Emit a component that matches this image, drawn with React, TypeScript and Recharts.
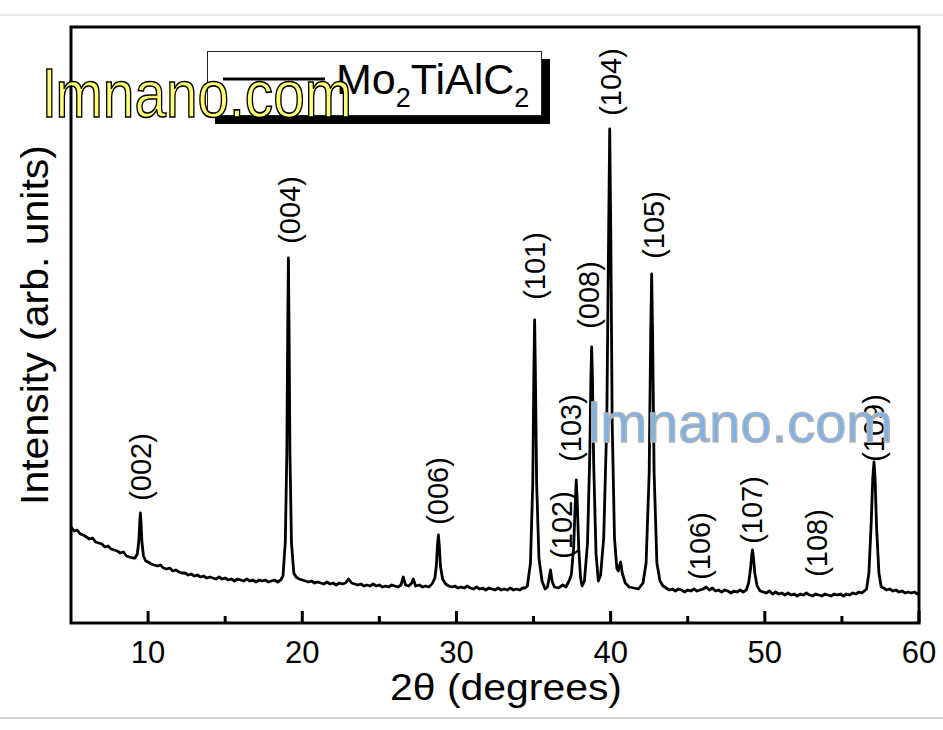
import React from 'react';
import { ComposedChart, Line, Scatter, XAxis, YAxis, ReferenceArea } from 'recharts';

// XRD scan: [2theta (deg), intensity (arb. units)]
const scan: [number, number][] = [
  [5.0, 96], [5.2, 92], [5.4, 93], [5.6, 89], [5.8, 88], [6.0, 86], [6.2, 84], [6.4, 85], [6.6, 81], [6.8, 80],
  [7.0, 79], [7.2, 76], [7.4, 77], [7.6, 74], [7.8, 73], [8.0, 72], [8.2, 70], [8.4, 71], [8.6, 67], [8.8, 66],
  [9.0, 65], [9.15, 65], [9.3, 69], [9.4, 82], [9.46, 101], [9.5, 110], [9.54, 101], [9.6, 81], [9.7, 67], [9.85, 62],
  [10.0, 61], [10.2, 59], [10.4, 58], [10.6, 57], [10.8, 58], [11.0, 55], [11.2, 54], [11.4, 55], [11.6, 52], [11.8, 53],
  [12.0, 51], [12.2, 50], [12.4, 50], [12.6, 48], [12.8, 49], [13.0, 47], [13.2, 48], [13.4, 46], [13.6, 47], [13.8, 45],
  [14.0, 46], [14.2, 45], [14.4, 44], [14.6, 46], [14.8, 44], [15.0, 45], [15.2, 43], [15.4, 44], [15.6, 42], [15.8, 44],
  [16.0, 43], [16.2, 42], [16.4, 44], [16.6, 42], [16.8, 43], [17.0, 41], [17.2, 43], [17.4, 42], [17.6, 43], [17.8, 41],
  [18.0, 42], [18.2, 43], [18.4, 41], [18.6, 43], [18.75, 47], [18.9, 81], [19.0, 172], [19.06, 300], [19.1, 365], [19.14, 300],
  [19.2, 170], [19.3, 80], [19.45, 50], [19.6, 46], [19.8, 44], [20.0, 43], [20.2, 42], [20.4, 41], [20.6, 42], [20.8, 40],
  [21.0, 41], [21.2, 40], [21.4, 39], [21.6, 41], [21.8, 39], [22.0, 40], [22.2, 38], [22.4, 40], [22.6, 39], [22.8, 40],
  [23.0, 44], [23.2, 40], [23.4, 39], [23.6, 38], [23.8, 39], [24.0, 37], [24.2, 38], [24.4, 37], [24.6, 39], [24.8, 37],
  [25.0, 38], [25.2, 36], [25.4, 37], [25.6, 36], [25.8, 38], [26.0, 37], [26.2, 36], [26.4, 38], [26.55, 46], [26.7, 38],
  [26.9, 37], [27.1, 40], [27.2, 44], [27.35, 37], [27.6, 38], [27.8, 36], [28.0, 37], [28.2, 36], [28.35, 38], [28.45, 40],
  [28.6, 45], [28.7, 58], [28.77, 78], [28.83, 88], [28.89, 77], [28.96, 57], [29.1, 44], [29.3, 39], [29.5, 37], [29.7, 36],
  [29.9, 37], [30.1, 35], [30.3, 36], [30.5, 35], [30.7, 37], [30.9, 35], [31.1, 34], [31.3, 36], [31.5, 34], [31.7, 35],
  [31.9, 33], [32.1, 35], [32.3, 34], [32.5, 33], [32.7, 35], [32.9, 33], [33.1, 34], [33.3, 33], [33.5, 35], [33.7, 33],
  [33.9, 34], [34.1, 33], [34.3, 35], [34.45, 35], [34.6, 37], [34.8, 60], [34.95, 140], [35.02, 250], [35.07, 303], [35.12, 250],
  [35.2, 140], [35.35, 65], [35.55, 42], [35.75, 34], [35.9, 36], [36.0, 44], [36.1, 53], [36.2, 42], [36.35, 36], [36.6, 35],
  [36.9, 38], [37.1, 36], [37.3, 42], [37.45, 48], [37.6, 75], [37.7, 118], [37.77, 143], [37.84, 118], [37.93, 75], [38.05, 45],
  [38.15, 37], [38.3, 42], [38.5, 80], [38.65, 170], [38.72, 245], [38.77, 276], [38.82, 245], [38.9, 160], [39.05, 70], [39.2, 42],
  [39.35, 48], [39.55, 85], [39.75, 200], [39.87, 390], [39.94, 494], [40.01, 390], [40.1, 200], [40.25, 85], [40.4, 55], [40.5, 52],
  [40.57, 57], [40.65, 61], [40.75, 50], [40.95, 40], [41.2, 36], [41.5, 35], [41.8, 34], [42.0, 38], [42.1, 40], [42.3, 60],
  [42.5, 150], [42.6, 290], [42.66, 349], [42.72, 290], [42.82, 150], [43.0, 60], [43.2, 42], [43.4, 37], [43.6, 35], [43.8, 33],
  [44.0, 34], [44.2, 32], [44.4, 34], [44.6, 33], [44.8, 31], [45.0, 33], [45.2, 32], [45.4, 34], [45.6, 32], [45.8, 33],
  [46.0, 34], [46.2, 36], [46.4, 33], [46.6, 35], [46.8, 32], [47.0, 33], [47.2, 31], [47.4, 33], [47.6, 32], [47.8, 30],
  [48.0, 32], [48.2, 31], [48.4, 33], [48.6, 31], [48.8, 33], [48.95, 40], [49.08, 55], [49.15, 68], [49.2, 73], [49.26, 66],
  [49.35, 50], [49.5, 37], [49.7, 32], [49.9, 31], [50.1, 30], [50.3, 32], [50.5, 29], [50.7, 31], [50.9, 29], [51.1, 30],
  [51.3, 28], [51.5, 30], [51.7, 28], [51.9, 29], [52.1, 27], [52.3, 29], [52.5, 28], [52.7, 30], [52.9, 28], [53.1, 27],
  [53.3, 29], [53.5, 28], [53.7, 27], [53.9, 29], [54.1, 28], [54.3, 27], [54.5, 29], [54.7, 28], [54.9, 29], [55.1, 27],
  [55.3, 29], [55.5, 28], [55.7, 30], [55.9, 29], [56.1, 31], [56.3, 30], [56.45, 32], [56.6, 34], [56.75, 50], [56.9, 100],
  [57.0, 145], [57.08, 161], [57.15, 145], [57.25, 95], [57.4, 50], [57.55, 36], [57.7, 35], [57.9, 33], [58.1, 34], [58.3, 32],
  [58.5, 33], [58.7, 31], [58.9, 32], [59.1, 30], [59.3, 31], [59.5, 30], [59.7, 31], [59.9, 29], [60.0, 30],
];

// Miller-index annotations placed at [2theta, intensity]
const peakLabels = [
  { t: 9.55, v: 156, hkl: '(002)' },
  { t: 19.22, v: 413, hkl: '(004)' },
  { t: 28.83, v: 132, hkl: '(006)' },
  { t: 35.1, v: 357, hkl: '(101)' },
  { t: 36.82, v: 98, hkl: '(102)' },
  { t: 37.4, v: 195, hkl: '(103)' },
  { t: 38.57, v: 328, hkl: '(008)' },
  { t: 40.0, v: 541, hkl: '(104)' },
  { t: 42.8, v: 398, hkl: '(105)' },
  { t: 45.78, v: 77, hkl: '(106)' },
  { t: 49.2, v: 113, hkl: '(107)' },
  { t: 53.4, v: 80, hkl: '(108)' },
  { t: 57.1, v: 195, hkl: '(109)' },
];

const xTicks = [10, 15, 20, 25, 30, 35, 40, 45, 50, 55, 60];
const xDomain = [5, 60];
const yDomain = [0, 596];
const xTitle = '2θ (degrees)';
const yTitle = 'Intensity (arb. units)';
const watermark = 'lmnano.com';

const lineData = scan.map(([t, v]) => ({ t, v }));

const FONT = '"Liberation Sans", Arial, sans-serif';

const XTick = (props: any) => {
  const { x, y, payload } = props;
  const major = payload.value % 10 === 0;
  return (
    <g>
      <line x1={x} x2={x} y1={y} y2={y - (major ? 12 : 7)} stroke="#000" strokeWidth={3} />
      {major && (
        <text x={x} y={y + 40} textAnchor="middle" fontSize={31} fontFamily={FONT} fill="#000">
          {payload.value}
        </text>
      )}
    </g>
  );
};

const PeakLabel = (props: any) => {
  const { cx, cy, payload } = props;
  return (
    <text
      x={cx}
      y={cy}
      transform={`rotate(-90 ${cx} ${cy})`}
      textAnchor="middle"
      dominantBaseline="central"
      fontSize={29}
      fontFamily={FONT}
      fill="#000"
    >
      {payload.hkl}
    </text>
  );
};

const XTitle = (props: any) => {
  const { viewBox } = props;
  const cx = viewBox.x + viewBox.width / 2 + 11;
  return (
    <text x={cx} y={viewBox.y + 77} textAnchor="middle" fontSize={36} fontFamily={FONT} fill="#000" textLength={232} lengthAdjust="spacingAndGlyphs">
      {xTitle}
    </text>
  );
};

const YTitle = (props: any) => {
  const { viewBox } = props;
  const cx = 35;
  const cy = viewBox.y + viewBox.height / 2;
  return (
    <text
      x={cx}
      y={cy}
      transform={`rotate(-90 ${cx} ${cy})`}
      textAnchor="middle"
      dominantBaseline="central"
      fontSize={38}
      fontFamily={FONT}
      fill="#000"
      textLength={360}
      lengthAdjust="spacingAndGlyphs"
    >
      {yTitle}
    </text>
  );
};

export default function App() {
  return (
    <div style={{ position: 'absolute', left: 0, top: 0, width: 943, height: 730, background: '#fff', overflow: 'hidden' }}>
      <ComposedChart width={943} height={730} margin={{ top: 27, right: 24, left: 0, bottom: 0 }}>
        <XAxis
          dataKey="t"
          type="number"
          domain={xDomain}
          ticks={xTicks}
          allowDataOverflow
          height={107}
          axisLine={false}
          tickLine={false}
          tickSize={0}
          tickMargin={0}
          tick={<XTick />}
          label={<XTitle />}
        />
        <YAxis
          dataKey="v"
          type="number"
          domain={yDomain}
          allowDataOverflow
          width={71}
          axisLine={false}
          tickLine={false}
          tick={false}
          label={<YTitle />}
        />
        <ReferenceArea x1={5} x2={60} y1={0} y2={596} fill="none" stroke="#000" strokeWidth={3} ifOverflow="visible" />
        <Line
          data={lineData}
          dataKey="v"
          type="linear"
          stroke="#000"
          strokeWidth={2.8}
          dot={false}
          isAnimationActive={false}
          strokeLinejoin="round"
        />
        <Scatter data={peakLabels} dataKey="v" shape={<PeakLabel />} isAnimationActive={false} />
      </ComposedChart>

      {/* legend */}
      <div
        style={{
          position: 'absolute',
          left: 207,
          top: 51,
          width: 333,
          height: 63,
          border: '1px solid #222',
          background: '#fff',
          boxShadow: '8px 8px 0 #000',
        }}
      >
        <svg width={333} height={63} style={{ position: 'absolute', left: 0, top: 0 }}>
          <line x1={15} x2={117} y1={27} y2={27} stroke="#000" strokeWidth={3} />
          <text x={128} y={42} fontSize={43} fontFamily={FONT} fill="#000">
            Mo<tspan fontSize={27} dy={13}>2</tspan>
            <tspan dy={-13}>TiAlC</tspan>
            <tspan fontSize={27} dy={13}>2</tspan>
          </text>
        </svg>
      </div>

      {/* watermarks */}
      <svg width={943} height={730} style={{ position: 'absolute', left: 0, top: 0, pointerEvents: 'none' }}>
        <line x1={0} x2={943} y1={15} y2={15} stroke="#e2e2e2" strokeWidth={1.5} />
        <line x1={0} x2={943} y1={718} y2={718} stroke="#d4d4d4" strokeWidth={2} />
        <text
          x={43}
          y={117}
          fontSize={67}
          fontFamily='"Liberation Sans Narrow", "Liberation Sans", Arial, sans-serif'
          fill="#ffff73"
          stroke="#000"
          strokeWidth={1.6}
          textLength={309}
          lengthAdjust="spacingAndGlyphs"
        >
          {watermark}
        </text>
        <text
          x={588}
          y={442}
          fontSize={56}
          fontFamily={FONT}
          fill="#7db2e8"
          stroke="#b4b4b4"
          strokeWidth={1.4}
          textLength={305}
          lengthAdjust="spacingAndGlyphs"
        >
          {watermark}
        </text>
      </svg>
    </div>
  );
}
